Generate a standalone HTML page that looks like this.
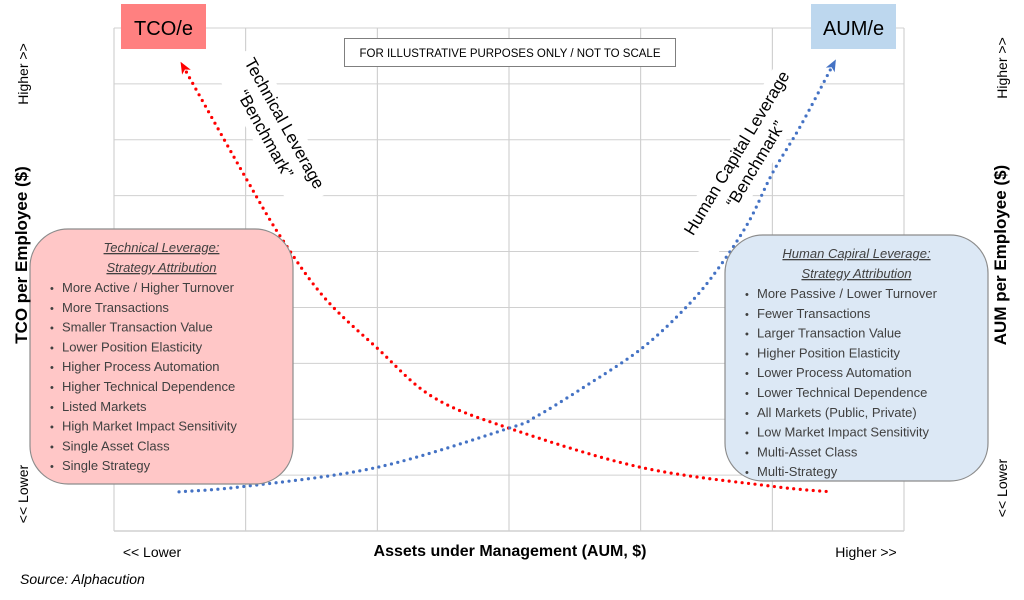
<!DOCTYPE html>
<html><head><meta charset="utf-8"><style>
html,body{margin:0;padding:0;background:#fff;width:1024px;height:600px;overflow:hidden}
svg{display:block;font-family:"Liberation Sans",Arial,sans-serif}
</style></head><body>
<svg id="chart" width="1024" height="600" viewBox="0 0 1024 600">
<g id="grid"></g>
<g id="series"></g>
<g id="overlay"></g>
</svg>
<script>
const xCats=[0,1,2,3,4,5,6];
const yCats=[0,1,2,3,4,5,6,7,8,9];
const redX=[0.55,1.01,1.28,1.60,2.0,2.42,3.0,4.0,5.0,5.45];
const redY=[8.21,6.28,5.21,4.17,3.27,2.40,1.84,1.14,0.80,0.70];
const blueX=[0.49,1.0,2.0,3.0,3.20,3.56,4.01,4.36,4.59,4.82,5.0,5.21,5.44];
const blueY=[0.70,0.80,1.14,1.84,2.04,2.56,3.27,4.04,4.70,5.53,6.40,7.23,8.25];
const leftItems=["More Active / Higher Turnover","More Transactions","Smaller Transaction Value","Lower Position Elasticity","Higher Process Automation","Higher Technical Dependence","Listed Markets","High Market Impact Sensitivity","Single Asset Class","Single Strategy"];
const rightItems=["More Passive / Lower Turnover","Fewer Transactions","Larger Transaction Value","Higher Position Elasticity","Lower Process Automation","Lower Technical Dependence","All Markets (Public, Private)","Low Market Impact Sensitivity","Multi-Asset Class","Multi-Strategy"];

const NS="http://www.w3.org/2000/svg";
const X0=114,X1=904,Y0=531,Y1=28;
function sx(v){return X0+(v-0)/6*(X1-X0);}
function sy(v){return Y0-(v-0)/9*(Y0-Y1);}
function mk(tag,attrs,parent){const e=document.createElementNS(NS,tag);for(const k in attrs)e.setAttribute(k,attrs[k]);parent.appendChild(e);return e;}
const grid=document.getElementById('grid'),series=document.getElementById('series'),ov=document.getElementById('overlay');
xCats.forEach(v=>{const l=mk('line',{x1:sx(v),x2:sx(v),y1:Y1,y2:Y0,stroke:'#c8c8c8','stroke-width':1},grid);

});
yCats.forEach(v=>{const l=mk('line',{x1:X0,x2:X1,y1:sy(v),y2:sy(v),stroke:'#d0d0d0','stroke-width':v===0?1.5:1},grid);

});

function curvePath(xs,ys){
  const p=xs.map((x,i)=>[sx(x),sy(ys[i])]);
  let d='M'+p[0][0]+','+p[0][1];
  for(let i=0;i<p.length-1;i++){
    const p0=p[i-1]||p[i],p1=p[i],p2=p[i+1],p3=p[i+2]||p2;
    const c1=[p1[0]+(p2[0]-p0[0])/6,p1[1]+(p2[1]-p0[1])/6];
    const c2=[p2[0]-(p3[0]-p1[0])/6,p2[1]-(p3[1]-p1[1])/6];
    d+=' C'+c1[0]+','+c1[1]+' '+c2[0]+','+c2[1]+' '+p2[0]+','+p2[1];
  }
  return {d,p};
}
function arrow(p,color,name){
  const a=p[0],b=p[1];
  const dx=a[0]-b[0],dy=a[1]-b[1],L=Math.hypot(dx,dy),ux=dx/L,uy=dy/L;
  const tip=[a[0]+ux*12,a[1]+uy*12];
  const base=[a[0],a[1]];
  const nx=-uy,ny=ux;
  const pts=[tip,[base[0]+nx*5,base[1]+ny*5],[base[0]+ux*3,base[1]+uy*3],[base[0]-nx*5,base[1]-ny*5]].map(q=>q.join(',')).join(' ');
  const e=mk('polygon',{points:pts,fill:color},series);
  
  
}
const r=curvePath(redX,redY);
const rp=mk('path',{d:r.d,fill:'none',stroke:'#ff0000','stroke-width':3.2,'stroke-linecap':'round','stroke-dasharray':'0 6.5'},series);


arrow(r.p,'#ff0000','tco-arrow');
const bl=curvePath(blueX.slice().reverse(),blueY.slice().reverse());
const bp=mk('path',{d:bl.d,fill:'none',stroke:'#4472c4','stroke-width':3.2,'stroke-linecap':'round','stroke-dasharray':'0 6.5'},series);


arrow(bl.p,'#4472c4','aum-arrow');

function txt(x,y,s,attrs,name){const e=mk('text',Object.assign({x,y},attrs),ov);e.textContent=s;

return e;}

let e=mk('rect',{x:121,y:4,width:85,height:45,fill:'#ff8080'},ov);


txt(163.5,35,'TCO/e',{'font-size':20,'text-anchor':'middle',fill:'#000'},'tco-tag-label');
e=mk('rect',{x:811,y:4,width:85,height:45,fill:'#bdd7ee'},ov);


txt(853.5,35,'AUM/e',{'font-size':20,'text-anchor':'middle',fill:'#000'},'aum-tag-label');

e=mk('rect',{x:344.5,y:38.5,width:331,height:28,fill:'#fff',stroke:'#7f7f7f','stroke-width':1},ov);


txt(510,57,'FOR ILLUSTRATIVE PURPOSES ONLY / NOT TO SCALE',{'font-size':11.5,'text-anchor':'middle',fill:'#000'},'disclaimer-text');

let g=mk('g',{transform:'translate(276,128) rotate(61)'},ov);


e=mk('rect',{x:-82,y:-22,width:164,height:48,fill:'#fff'},g);
e=mk('text',{x:0,y:-4,'font-size':17,'text-anchor':'middle'},g);e.textContent='Technical Leverage';
e=mk('text',{x:0,y:18,'font-size':17,'text-anchor':'middle'},g);e.textContent='\u201CBenchmark\u201D';
g=mk('g',{transform:'translate(745,158) rotate(-59)'},ov);


e=mk('rect',{x:-104,y:-22,width:208,height:48,fill:'#fff'},g);
e=mk('text',{x:0,y:-4,'font-size':17,'text-anchor':'middle'},g);e.textContent='Human Capital Leverage';
e=mk('text',{x:0,y:18,'font-size':17,'text-anchor':'middle'},g);e.textContent='\u201CBenchmark\u201D';

function box(x,y,w,h,fill,stroke,t1,t2,items,name){
  const g=mk('g',{},ov);
  
  
  mk('rect',{x,y,width:w,height:h,rx:38,ry:38,fill,stroke,'stroke-width':1.2},g);
  let t=mk('text',{x:x+w/2,y:y+23,'font-size':13,'font-style':'italic','text-anchor':'middle',fill:'#404040','text-decoration':'underline'},g);t.textContent=t1;
  t=mk('text',{x:x+w/2,y:y+43,'font-size':13,'font-style':'italic','text-anchor':'middle',fill:'#404040','text-decoration':'underline'},g);t.textContent=t2;
  items.forEach((s,i)=>{
    const ty=y+63+i*19.8;
    const b=mk('text',{x:x+20,y:ty,'font-size':11,fill:'#404040'},g);b.textContent='\u2022';
    const it=mk('text',{x:x+32,y:ty,'font-size':13,fill:'#404040'},g);it.textContent=s;
    
    
  });
}
box(30,229,263,255,'#ffc7c7','#8c8c8c','Technical Leverage:','Strategy Attribution',leftItems,'technical-attribution-box');
box(725,235,263,246,'#dce8f5','#8c8c8c','Human Capiral Leverage:','Strategy Attribution',rightItems,'human-capital-attribution-box');

txt(510,556,'Assets under Management (AUM, $)',{'font-size':16,'font-weight':'bold','text-anchor':'middle'},'x-axis-title');
txt(152,557,'<< Lower',{'font-size':14,'text-anchor':'middle'},'x-axis-low');
txt(866,557,'Higher >>',{'font-size':14,'text-anchor':'middle'},'x-axis-high');
txt(20,584,'Source: Alphacution',{'font-size':14,'font-style':'italic'},'source-note');
txt(0,0,'TCO per Employee ($)',{'font-size':17,'font-weight':'bold','text-anchor':'middle',transform:'translate(27,255) rotate(-90)'},'left-y-axis-title');
txt(0,0,'Higher >>',{'font-size':14,'text-anchor':'middle',transform:'translate(28,74) rotate(-90)'},'left-y-high');
txt(0,0,'<< Lower',{'font-size':14,'text-anchor':'middle',transform:'translate(28,494) rotate(-90)'},'left-y-low');
txt(0,0,'AUM per Employee ($)',{'font-size':17,'font-weight':'bold','text-anchor':'middle',transform:'translate(1006,255) rotate(-90)'},'right-y-axis-title');
txt(0,0,'Higher >>',{'font-size':14,'text-anchor':'middle',transform:'translate(1007,68) rotate(-90)'},'right-y-high');
txt(0,0,'<< Lower',{'font-size':14,'text-anchor':'middle',transform:'translate(1007,488) rotate(-90)'},'right-y-low');
</script>
</body></html>
